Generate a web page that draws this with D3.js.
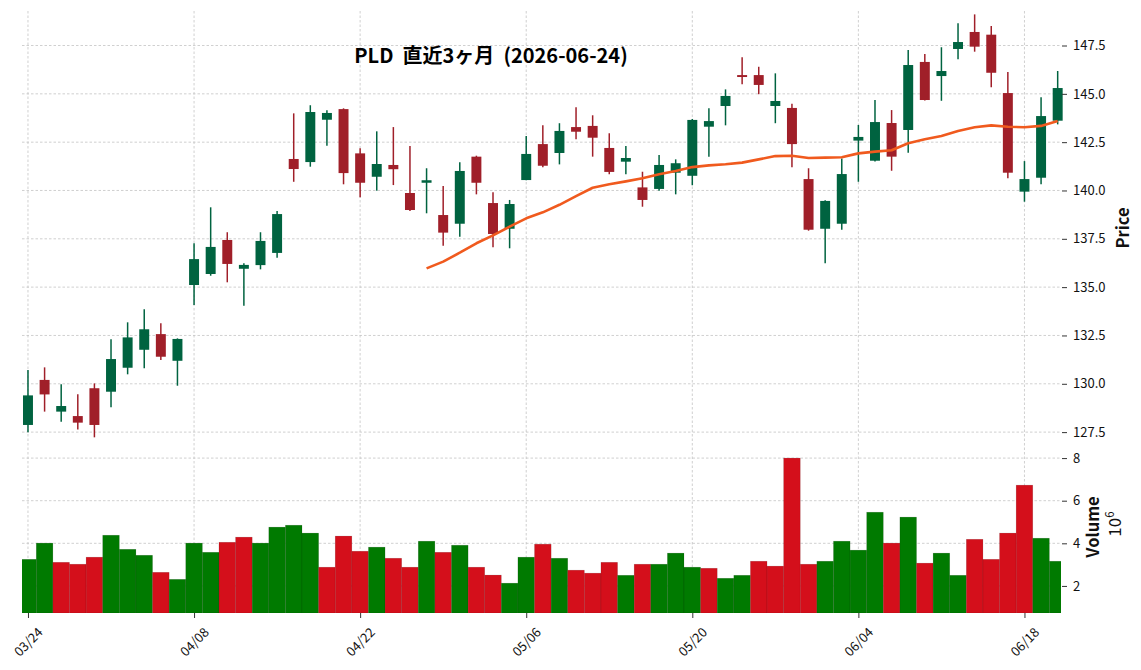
<!DOCTYPE html>
<html>
<head>
<meta charset="utf-8">
<script src="https://cdn.jsdelivr.net/npm/d3@7"></script>
<style>
  html, body { margin: 0; padding: 0; background: #fff; }
  svg { display: block; font-family: "Noto Sans CJK JP", "Noto Sans", sans-serif; }
</style>
</head>
<body>
<div id="chart"></div>
<script>
// PLD daily data, last 3 months
const dates = ["03/24","03/25","03/26","03/27","03/30","03/31","04/01","04/02","04/06","04/07",
  "04/08","04/09","04/10","04/13","04/14","04/15","04/16","04/17","04/20","04/21",
  "04/22","04/23","04/24","04/27","04/28","04/29","04/30","05/01","05/04","05/05",
  "05/06","05/07","05/08","05/11","05/12","05/13","05/14","05/15","05/18","05/19",
  "05/20","05/21","05/22","05/26","05/27","05/28","05/29","06/01","06/02","06/03",
  "06/04","06/05","06/08","06/09","06/10","06/11","06/12","06/15","06/16","06/17",
  "06/18","06/22","06/23"];

const opens = [127.87,130.20,128.56,128.33,129.77,129.59,130.83,131.76,132.57,131.19,
  135.11,135.68,137.44,135.95,136.14,136.77,141.63,141.47,143.66,144.21,
  141.92,140.71,141.32,139.87,140.40,138.73,138.28,141.75,139.35,138.02,
  140.54,142.40,141.94,143.28,143.34,142.20,141.49,140.16,140.08,140.92,
  140.76,143.30,144.37,145.97,145.97,144.37,144.27,140.59,138.02,138.28,
  142.58,141.54,143.49,143.13,146.65,145.92,147.32,148.20,148.06,145.04,
  139.94,140.66,143.61];

const highs = [130.71,130.85,129.97,129.46,130.02,132.30,133.18,133.85,133.13,132.35,
  137.27,139.13,137.84,136.23,137.84,138.94,143.99,144.41,144.15,144.25,
  142.18,143.06,143.28,142.30,141.15,140.23,141.46,141.80,139.91,139.51,
  142.82,143.37,143.48,144.30,143.89,142.96,142.30,140.97,141.84,141.61,
  143.70,144.25,145.23,146.89,146.40,146.06,144.49,141.15,139.50,141.66,
  143.39,144.68,144.16,147.27,147.06,147.41,148.65,149.11,148.51,146.13,
  141.52,144.82,146.18];

const lows = [127.49,128.56,128.04,127.64,127.23,128.78,130.49,130.80,131.23,129.90,
  134.08,135.59,135.25,134.04,135.92,136.52,140.45,141.23,142.32,140.32,
  139.65,139.99,140.28,138.94,138.82,137.14,137.61,139.80,137.06,137.01,
  140.53,141.20,141.35,142.65,141.75,140.84,140.84,139.16,139.99,139.80,
  140.27,141.75,143.37,145.49,144.98,143.48,141.20,137.92,136.23,137.97,
  140.45,141.50,141.02,141.95,144.66,144.64,146.79,147.18,145.34,140.63,
  139.42,140.32,143.42];

const closes = [129.40,129.45,128.85,127.99,127.87,131.28,132.40,132.82,131.40,132.32,
  136.45,137.08,136.20,136.15,137.39,138.78,141.11,144.06,144.01,140.90,
  140.40,141.37,141.10,138.99,140.53,137.82,141.01,140.40,137.75,139.30,
  141.89,141.28,143.08,143.04,142.73,140.96,141.68,139.51,141.32,141.41,
  143.65,143.59,144.89,145.87,145.46,144.63,142.40,137.97,139.46,140.85,
  142.77,143.54,141.75,146.49,144.68,146.18,147.68,147.44,146.09,140.92,
  140.59,143.85,145.30];

// volume in millions of shares
const volumes = [3.25,4.01,3.11,3.02,3.35,4.38,3.72,3.44,2.64,2.31,
  4.01,3.58,4.05,4.29,4.01,4.76,4.85,4.48,2.88,4.34,
  3.63,3.82,3.30,2.88,4.10,3.58,3.91,2.88,2.51,2.13,
  3.35,3.96,3.30,2.74,2.60,3.11,2.50,3.02,3.02,3.54,
  2.88,2.83,2.36,2.50,3.16,2.93,8.00,3.02,3.16,4.10,
  3.68,5.46,4.01,5.23,3.07,3.54,2.50,4.19,3.25,4.48,
  6.73,4.24,3.16];

// 25 day moving average, starts at the 25th session
const maStart = 24;
const ma25 = [135.97,136.32,136.78,137.27,137.68,138.13,138.56,138.87,139.26,139.71,
  140.14,140.32,140.47,140.63,140.84,141.01,141.21,141.30,141.36,141.44,
  141.61,141.78,141.80,141.68,141.70,141.72,141.92,142.01,142.08,142.44,
  142.65,142.82,143.08,143.27,143.37,143.30,143.27,143.34,143.59];

const xTickLabels = ["03/24","04/08","04/22","05/06","05/20","06/04","06/18"];
const priceTicks = [127.5,130.0,132.5,135.0,137.5,140.0,142.5,145.0,147.5];
const volTicks = [2,4,6,8];

const width = 1141, height = 670;
const left = 22, right = 1061;
const pTop = 11, pBottom = 447, vTop = 447, vBottom = 613;

const upCandle = "#006340", downCandle = "#a01f29";
const upVol = "#007a00", downVol = "#d40f1b";
const gridColor = "#c4c4c4";

const svg = d3.select("#chart").append("svg")
  .attr("width", width).attr("height", height);

const x = d3.scaleLinear().domain([-0.36, 62.2]).range([left, right]);
const step = x(1) - x(0);
const y = d3.scaleLinear().domain([126.73, 149.285]).range([pBottom, pTop]);
const yv = d3.scaleLinear().domain([0.73, 8.52]).range([vBottom, vTop]);

svg.append("clipPath").attr("id", "clipV")
  .append("rect").attr("x", left).attr("y", vTop).attr("width", right - left).attr("height", vBottom - vTop);

const tickIdx = xTickLabels.map(t => dates.indexOf(t));

// grid
const grid = svg.append("g")
  .attr("stroke", gridColor).attr("stroke-width", 0.8).attr("stroke-dasharray", "2.5,2");
grid.selectAll(".vg").data(tickIdx).join("line")
  .attr("x1", d => x(d)).attr("x2", d => x(d))
  .attr("y1", pTop).attr("y2", vBottom);
grid.selectAll(".hg").data(priceTicks).join("line")
  .attr("x1", left).attr("x2", right)
  .attr("y1", d => y(d)).attr("y2", d => y(d));
grid.selectAll(".vhg").data(volTicks).join("line")
  .attr("x1", left).attr("x2", right)
  .attr("y1", d => yv(d)).attr("y2", d => yv(d));

// volume bars, coloured by close vs previous close
const volColor = i => (i === 0 ? closes[0] >= opens[0] : closes[i] >= closes[i - 1]) ? upVol : downVol;
svg.append("g").attr("clip-path", "url(#clipV)")
  .selectAll("rect").data(volumes).join("rect")
    .attr("x", (d, i) => x(i) - step / 2)
    .attr("width", step)
    .attr("y", d => yv(d))
    .attr("height", d => vBottom - yv(d))
    .attr("fill", (d, i) => volColor(i))
    .attr("stroke", "rgba(0,0,0,0.18)")
    .attr("stroke-width", 0.6);

// candles
const candles = svg.append("g").selectAll("g").data(d3.range(dates.length)).join("g");
candles.append("line")
  .attr("x1", i => x(i)).attr("x2", i => x(i))
  .attr("y1", i => y(highs[i])).attr("y2", i => y(lows[i]))
  .attr("stroke", i => closes[i] >= opens[i] ? upCandle : downCandle)
  .attr("stroke-width", 1.5);
candles.append("rect")
  .attr("x", i => x(i) - step * 0.3)
  .attr("width", step * 0.6)
  .attr("y", i => y(Math.max(opens[i], closes[i])))
  .attr("height", i => Math.max(1.2, Math.abs(y(opens[i]) - y(closes[i]))))
  .attr("fill", i => closes[i] >= opens[i] ? upCandle : downCandle);

// moving average
svg.append("path")
  .datum(ma25)
  .attr("fill", "none")
  .attr("stroke", "#f05a1e")
  .attr("stroke-width", 2.6)
  .attr("stroke-linejoin", "round")
  .attr("d", d3.line().x((d, i) => x(i + maStart)).y(d => y(d)));

// right axes
const pAxis = svg.append("g").attr("transform", `translate(${right + 1},0)`)
  .call(d3.axisRight(y).tickValues(priceTicks).tickFormat(d3.format(".1f")).tickSize(5).tickPadding(6));
const vAxis = svg.append("g").attr("transform", `translate(${right + 1},0)`)
  .call(d3.axisRight(yv).tickValues(volTicks).tickFormat(d3.format("d")).tickSize(5).tickPadding(6));
[pAxis, vAxis].forEach(a => {
  a.select(".domain").remove();
  a.selectAll(".tick line").attr("stroke", "#333").attr("stroke-width", 1);
  a.selectAll("text").attr("font-size", 13).attr("fill", "#111")
    .attr("font-family", "'Noto Sans CJK JP', 'Noto Sans', sans-serif");
});

// bottom axis, labels rotated 45deg and centred under the tick
const xAxis = svg.append("g").attr("transform", `translate(0,${vBottom})`)
  .call(d3.axisBottom(x).tickValues(tickIdx).tickFormat(i => dates[i]).tickSize(5).tickPadding(4));
xAxis.select(".domain").remove();
xAxis.selectAll(".tick line").attr("stroke", "#333");
xAxis.selectAll("text")
  .attr("font-size", 13).attr("fill", "#111")
  .attr("font-family", "'Noto Sans CJK JP', 'Noto Sans', sans-serif")
  .attr("text-anchor", "middle")
  .attr("x", 0).attr("y", 0).attr("dy", "0.35em")
  .attr("transform", "translate(0,29) rotate(-45)");

// axis titles
svg.append("text")
  .attr("transform", `translate(1129,228) rotate(-90)`)
  .attr("text-anchor", "middle")
  .attr("font-size", 16.5).attr("font-weight", "bold").attr("fill", "#111")
  .text("Price");
svg.append("text")
  .attr("transform", `translate(1099,527) rotate(-90)`)
  .attr("text-anchor", "middle")
  .attr("font-size", 16.5).attr("font-weight", "bold").attr("fill", "#111")
  .text("Volume");
const off = svg.append("text")
  .attr("transform", `translate(1121,524) rotate(-90)`)
  .attr("text-anchor", "middle")
  .attr("font-size", 17).attr("fill", "#111");
off.append("tspan").text("10");
off.append("tspan").attr("font-size", 11.5).attr("dy", "-0.65em").text("6");

// title
svg.append("text")
  .attr("x", 491).attr("y", 63)
  .attr("text-anchor", "middle")
  .style("white-space", "pre")
  .attr("font-size", 20).attr("font-weight", "bold").attr("fill", "#000")
  .text("PLD  直近3ヶ月  (2026-06-24)");
</script>
</body>
</html>
